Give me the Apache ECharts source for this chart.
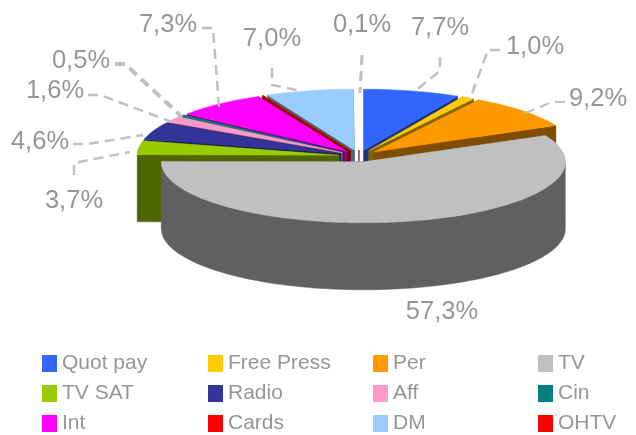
<!DOCTYPE html>
<html>
<head>
<meta charset="utf-8">
<style>html,body{margin:0;padding:0;background:#fff}#c{width:636px;height:435px}</style>
<script src="https://cdn.jsdelivr.net/npm/echarts@6/dist/echarts.min.js"></script>
</head>
<body>
<div id="c"></div>
<script>
const categories = ['Quot pay','Free Press','Per','TV','TV SAT','Radio','Aff','Cin','Int','Cards','DM','OHTV'];
const values = [7.7,1.0,9.2,57.3,3.7,4.6,1.6,0.5,7.3,0.1,7.0,0.1];
const labelled = [true,true,true,true,true,true,true,true,true,false,true,true];
const colors = ['#3366FF','#FFCC00','#FF9900','#C0C0C0','#99CC00','#333399','#FF99CC','#008080','#FF00FF','#FF0000','#99CCFF','#FF0000'];
const legendColumns = [
  {left:42, names:['Quot pay','TV SAT','Int']},
  {left:208, names:['Free Press','Radio','Cards']},
  {left:373, names:['Per','Aff','DM']},
  {left:538, names:['TV','Cin','OHTV']}
];
// label centres and leader lines (layout only)
const labelLayout = {
  'Quot pay':{x:440,y:28,line:[[440,57],[440,71],[415,91]],w:2.5},
  'Free Press':{x:535,y:47,line:[[500,50],[488,50],[470,99]],w:2.5},
  'Per':{x:598,y:99,line:[[565,102],[552,102],[523,114]],w:2},
  'TV':{x:442,y:312},
  'TV SAT':{x:74,y:201,line:[[74,175],[74,163],[130,152]],w:2.5},
  'Radio':{x:40,y:142,line:[[73,144],[88,144],[143,135]],w:2.5},
  'Aff':{x:55,y:91,line:[[88,95],[100,95],[172,122]],w:2.5},
  'Cin':{x:81,y:61,line:[[115,64],[125,64],[182,117]],w:4},
  'Int':{x:168,y:25,line:[[202,28],[213,28],[219,107]],w:2.5},
  'DM':{x:272,y:39,line:[[272,68],[272,85],[302,91]],w:2.5},
  'OHTV':{x:362,y:25,line:[[362,55],[360,93]],w:3}
};
const PIE = {cx:359,cy:156,rx:202,ry:61,depth:67,ex:20,ey:6};

function shade(hex){
  const n=parseInt(hex.slice(1),16);
  const c=[(n>>16)&255,(n>>8)&255,n&255].map(v=>Math.round(v*0.5));
  return 'rgb('+c.join(',')+')';
}
const total=values.reduce((a,b)=>a+b,0);
let acc=0;
const slices=categories.map((name,i)=>{
  const a0=acc/total*2*Math.PI; acc+=values[i];
  const a1=acc/total*2*Math.PI; const mid=(a0+a1)/2;
  return {name,i,a0,a1,mid,
    cx:PIE.cx+PIE.ex*Math.sin(mid),
    cy:PIE.cy-PIE.ey*Math.cos(mid)};
});
function arc(s,a0,a1,dy){
  const pts=[];const n=Math.max(2,Math.ceil((a1-a0)/(Math.PI/120)));
  for(let k=0;k<=n;k++){
    const t=a0+(a1-a0)*k/n;
    pts.push([s.cx+PIE.rx*Math.sin(t),s.cy+dy-PIE.ry*Math.cos(t)]);
  }
  return pts;
}
function poly(points,fill){
  return {type:'polygon',shape:{points},style:{fill,stroke:fill,lineWidth:0.4},silent:true};
}
const order=slices.slice().sort((p,q)=>(-Math.cos(p.mid))-(-Math.cos(q.mid)));
const series=order.map(s=>({
  type:'custom',name:s.name,coordinateSystem:'none',
  itemStyle:{color:colors[s.i]},
  data:[values[s.i]],
  renderItem:function(){
    const dark=shade(colors[s.i]);
    const c0=[s.cx,s.cy],c1=[s.cx,s.cy+PIE.depth];
    // a sliver seen exactly edge-on shows only its vertical inner edge
    if(s.a1-s.a0<0.01 && Math.abs(Math.sin(s.mid))<0.02){
      return {type:'line',silent:true,shape:{x1:c0[0],y1:c0[1],x2:c1[0],y2:c1[1]},style:{stroke:dark,lineWidth:1.2}};
    }
    const top=arc(s,s.a0,s.a1,0);
    const children=[
      poly([c0,top[0],[top[0][0],top[0][1]+PIE.depth],c1],dark),
      poly([c0,top[top.length-1],[top[top.length-1][0],top[top.length-1][1]+PIE.depth],c1],dark)
    ];
    const r0=Math.max(s.a0,Math.PI/2),r1=Math.min(s.a1,Math.PI*1.5);
    if(r1>r0){
      children.push(poly(arc(s,r0,r1,0).concat(arc(s,r0,r1,PIE.depth).reverse()),dark));
    }
    children.push(poly([c0].concat(top),colors[s.i]));
    return {type:'group',children};
  }
}));
const graphic=[];
categories.forEach((name,i)=>{
  if(!labelled[i])return;
  const L=labelLayout[name];
  if(L.line)graphic.push({type:'polyline',z:20,silent:true,shape:{points:L.line},
    style:{stroke:'#C0C0C0',lineWidth:L.w,lineDash:[10,6],fill:null}});
  graphic.push({type:'text',z:21,silent:true,style:{x:L.x,y:L.y,
    text:values[i].toFixed(1).replace('.',',')+'%',
    fill:'#969696',font:'25.5px "Liberation Sans"',textAlign:'center',textVerticalAlign:'middle',verticalAlign:'middle'}});
});
const chart=echarts.init(document.getElementById('c'),null,{renderer:'canvas'});
chart.setOption({
  animation:false,
  backgroundColor:'#fff',
  legend:legendColumns.map(c=>({
    left:c.left,top:353,orient:'vertical',padding:0,itemGap:9,itemWidth:15,itemHeight:17,
    selectedMode:false,icon:'rect',
    textStyle:{fontFamily:'Liberation Sans',fontSize:21,color:'#969696'},
    data:c.names
  })),
  series,
  graphic
});
</script>
</body>
</html>
